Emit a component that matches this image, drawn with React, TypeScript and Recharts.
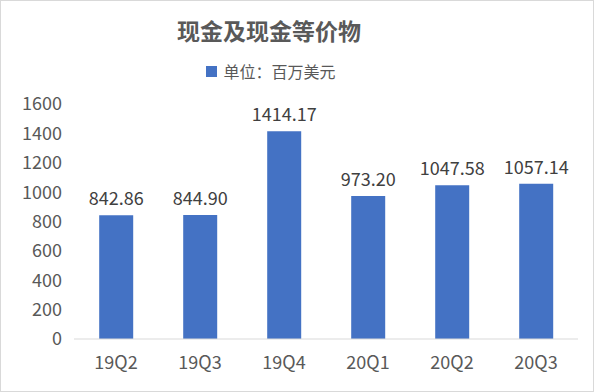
import {BarChart, Bar, XAxis, YAxis, LabelList} from 'recharts';

const quarters = ['19Q2', '19Q3', '19Q4', '20Q1', '20Q2', '20Q3'];
const cash = [842.86, 844.9, 1414.17, 973.2, 1047.58, 1057.14];
const yTicks = [0, 200, 400, 600, 800, 1000, 1200, 1400, 1600];

const data = quarters.map((q, i) => ({quarter: q, value: cash[i]}));

const FONT = '"Noto Sans CJK SC", "Noto Sans", sans-serif';

export default function App() {
  return (
    <div
      style={{
        position: 'absolute',
        left: 0,
        top: 0,
        width: 594,
        height: 392,
        background: '#fff',
        fontFamily: FONT,
        boxSizing: 'border-box',
        border: '1px solid #d9d9d9',
      }}
    >
      <div
        style={{
          position: 'absolute',
          top: 12,
          left: 0,
          width: 536,
          textAlign: 'center',
          fontSize: 23,
          fontWeight: 'bold',
          color: '#595959',
        }}
      >
        现金及现金等价物
      </div>
      <div
        style={{
          position: 'absolute',
          top: 58,
          left: 0,
          width: 540,
          textAlign: 'center',
          fontSize: 16,
          color: '#595959',
        }}
      >
        <span
          style={{
            display: 'inline-block',
            width: 11,
            height: 11,
            background: '#4472C4',
            marginRight: 6,
            verticalAlign: 'middle',
            position: 'relative',
            top: -2,
          }}
        />
        单位：百万美元
      </div>
      <div style={{position: 'absolute', left: -1, top: -1}}>
        <BarChart
          width={594}
          height={392}
          data={data}
          margin={{top: 104, right: 16, bottom: 0, left: 14}}
          barCategoryGap="30%"
        >
          <XAxis
            dataKey="quarter"
            axisLine={{stroke: '#d9d9d9'}}
            tickLine={false}
            tickMargin={11}
            interval={0}
            tick={{fill: '#595959', fontSize: 18, fontFamily: FONT}}
            height={53}
          />
          <YAxis
            width={60}
            domain={[0, 1600]}
            ticks={yTicks}
            interval={0}
            axisLine={false}
            tickLine={false}
            tickMargin={6}
            tick={{fill: '#595959', fontSize: 18, fontFamily: FONT}}
          />
          <Bar dataKey="value" fill="#4472C4" isAnimationActive={false}>
            <LabelList
              dataKey="value"
              position="top"
              offset={10}
              formatter={(v: number) => v.toFixed(2)}
              style={{fill: '#404040', fontSize: 18, fontFamily: FONT}}
            />
          </Bar>
        </BarChart>
      </div>
    </div>
  );
}
